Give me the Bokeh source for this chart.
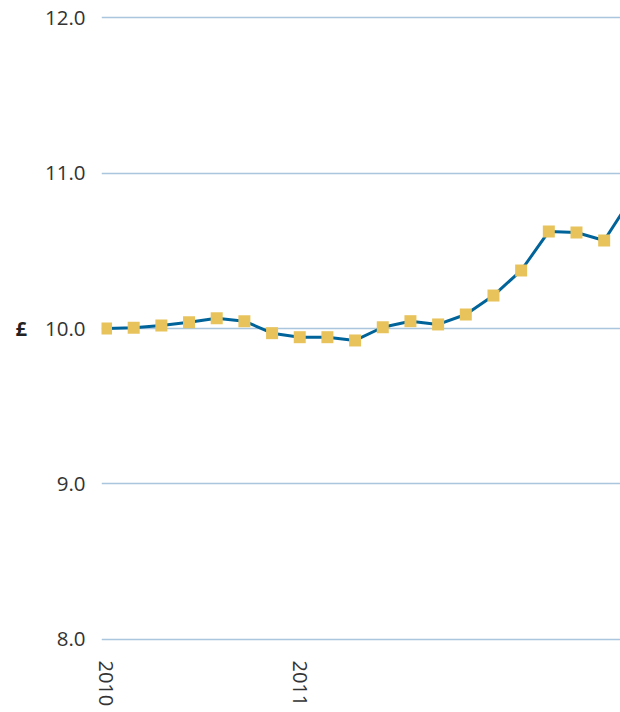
from bokeh.plotting import figure
from bokeh.models import Range1d, FixedTicker
from bokeh.embed import file_html
from bokeh.resources import INLINE

# Monthly price series (GBP)
values = [10.00, 10.005, 10.02, 10.04, 10.066, 10.047, 9.97, 9.944, 9.944, 9.923,
          10.008, 10.047, 10.026, 10.09, 10.212, 10.373, 10.624, 10.617, 10.566, 10.84]
idx = list(range(len(values)))
year_ticks = [0, 7]
year_labels = ["2010", "2011"]
y_ticks = [8.0, 9.0, 10.0, 11.0, 12.0]

FONT = "Open Sans"

# small padding around 8..12 so the outer gridlines stay visible
p = figure(width=620, height=712, output_backend="svg", toolbar_location=None,
           x_range=Range1d(-0.163, 18.59), y_range=Range1d(7.9871, 12.0129),
           min_border_left=101, min_border_right=0, min_border_top=15, min_border_bottom=71)
p.outline_line_color = None
p.background_fill_color = "white"
p.border_fill_color = "white"

p.xgrid.grid_line_color = None
p.ygrid.grid_line_color = "#A9C6DE"
p.ygrid.grid_line_width = 1.3

p.yaxis.ticker = FixedTicker(ticks=y_ticks)
p.yaxis.major_label_overrides = {t: f"{t:.1f}" for t in y_ticks}
p.yaxis.axis_line_color = None
p.yaxis.major_tick_line_color = None
p.yaxis.minor_tick_line_color = None
p.yaxis.major_label_text_font = FONT
p.yaxis.major_label_text_font_size = "20.5px"
p.yaxis.major_label_text_color = "#333333"
p.yaxis.major_label_standoff = 10
p.yaxis.axis_label = "£"
p.yaxis.axis_label_orientation = "horizontal"
p.yaxis.axis_label_text_font = FONT
p.yaxis.axis_label_text_font_style = "bold"
p.yaxis.axis_label_text_font_size = "20px"
p.yaxis.axis_label_text_color = "#222222"
p.yaxis.axis_label_standoff = 15

p.xaxis.ticker = FixedTicker(ticks=year_ticks)
p.xaxis.major_label_overrides = dict(zip(year_ticks, year_labels))
p.xaxis.major_label_orientation = "vertical"
p.xaxis.axis_line_color = None
p.xaxis.major_tick_line_color = None
p.xaxis.minor_tick_line_color = None
p.xaxis.major_label_text_font = FONT
p.xaxis.major_label_text_font_size = "20px"
p.xaxis.major_label_text_color = "#333333"
p.xaxis.major_label_standoff = 13

p.line(idx, values, line_color="#00649A", line_width=3)
p.scatter(idx, values, marker="square", size=12, fill_color="#E8C35C", line_color=None)

open("out.html", "w").write(file_html(p, INLINE))
